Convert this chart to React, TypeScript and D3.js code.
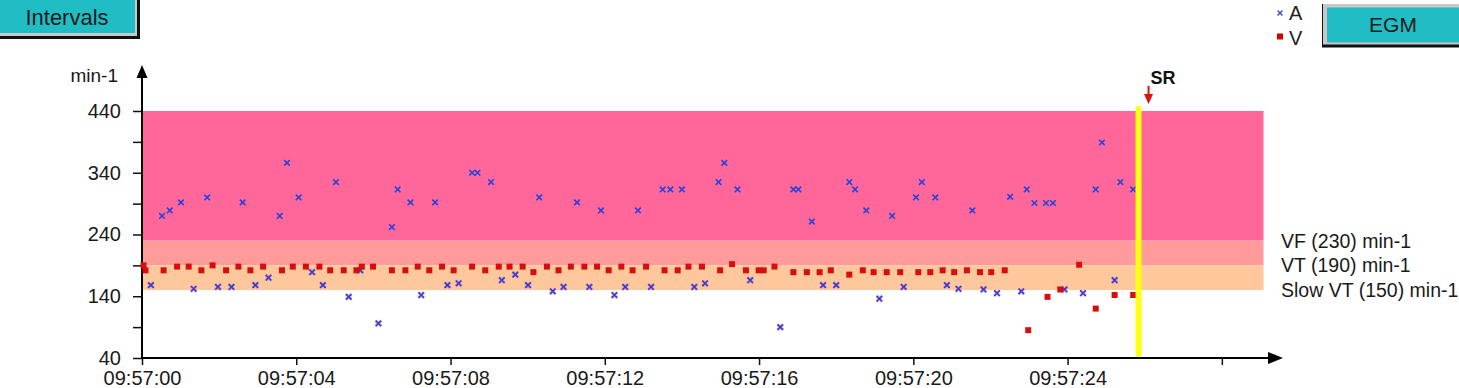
import React, { useEffect, useRef } from 'react';
import * as d3 from 'd3';

// episode: seconds after 09:57:00 and rate in min-1
const aTimes = [
  0.23, 0.52, 0.72, 1.01, 1.34, 1.69, 1.97, 2.32, 2.61, 2.94, 3.28, 3.57, 3.76, 4.06, 4.41,
  4.69, 5.03, 5.36, 5.66, 6.13, 6.48, 6.63, 6.96, 7.24, 7.6, 7.92, 8.21, 8.56, 8.7, 9.05,
  9.33, 9.68, 10.01, 10.3, 10.65, 10.93, 11.28, 11.6, 11.9, 12.25, 12.53, 12.86, 13.2, 13.5,
  13.7, 14.0, 14.32, 14.6, 14.95, 15.1, 15.44, 15.77, 16.55, 16.89, 17.02, 17.37, 17.66, 18.0,
  18.34, 18.49, 18.78, 19.12, 19.45, 19.75, 20.07, 20.22, 20.57, 20.87, 21.17, 21.53, 21.82,
  22.17, 22.51, 22.8, 22.94, 23.14, 23.44, 23.62, 23.92, 24.4, 24.73, 24.89, 25.22, 25.37, 25.7
];
const aRates = [
  158, 270, 279, 292, 152, 300, 155, 155, 292, 158, 170, 270, 356, 300, 179,
  158, 325, 139, 182, 96, 252, 313, 292, 142, 292, 158, 161, 340, 340, 325,
  166, 175, 158, 300, 148, 155, 292, 155, 279, 142, 155, 279, 155, 313,
  313, 313, 155, 161, 325, 356, 313, 166, 90, 313, 313, 261, 158, 158,
  325, 313, 279, 136, 270, 155, 300, 325, 300, 158, 152, 279, 151,
  145, 301, 148, 313, 291, 291, 291, 151, 145, 313, 389, 166, 325, 313
];

const vTimes = [
  0.04, 0.09, 0.56, 0.91, 1.21, 1.54, 1.83, 2.18, 2.5, 2.81, 3.14, 3.63, 3.91, 4.25, 4.6,
  4.88, 5.23, 5.56, 5.7, 5.99, 6.48, 6.83, 7.15, 7.45, 7.78, 8.08, 8.56, 8.9, 9.25, 9.53,
  9.87, 10.15, 10.5, 10.8, 11.12, 11.47, 11.8, 12.1, 12.43, 12.72, 13.07, 13.55, 13.89, 14.17,
  14.52, 14.99, 15.3, 15.66, 15.99, 16.12, 16.4, 16.89, 17.24, 17.57, 17.86, 18.34, 18.69,
  18.97, 19.31, 19.66, 20.13, 20.44, 20.76, 21.06, 21.39, 21.73, 22.02, 22.37, 22.98, 23.48,
  23.81, 24.3, 24.73, 25.22, 25.7
];
const vRates = [
  190, 182, 182, 188, 188, 182, 190, 182, 188, 182, 188, 182, 188, 188, 188,
  182, 182, 182, 188, 188, 182, 182, 188, 182, 188, 182, 188, 182, 188, 188,
  188, 179, 188, 182, 188, 188, 188, 182, 188, 182, 188, 182, 182, 188,
  188, 182, 192, 182, 182, 182, 188, 179, 179, 179, 182, 175, 182,
  179, 179, 179, 179, 179, 182, 179, 182, 179, 179, 182, 85, 139,
  151, 191, 120, 142, 142
];

const zoneNames = ['VF', 'VT', 'Slow VT'];
const zoneLimits = [230, 190, 150];
const rateTicks = [40, 90, 140, 190, 240, 290, 340, 390, 440];
const rateLabels = ['40', '', '140', '', '240', '', '340', '', '440'];
const timeTicks = [0, 4, 8, 12, 16, 20, 24, 28];
const timeLabels = ['09:57:00', '09:57:04', '09:57:08', '09:57:12', '09:57:16', '09:57:20', '09:57:24', ''];
const srTime = 25.84;
const plotEnd = 29.08;
const rateMax = 440;
const rateMin = 40;

const zoneColors = ['#ff6699', '#ff9b9b', '#ffc79c'];
const font = '"Liberation Sans", Arial, sans-serif';
const teal = '#20bec4';

export default function App() {
  const ref = useRef<SVGSVGElement>(null);

  useEffect(() => {
    const svg = d3.select(ref.current);
    svg.selectAll('*').remove();

    const x = d3.scaleLinear().domain([0, plotEnd]).range([142, 1263.5]);
    const y = d3.scaleLinear().domain([rateMin, rateMax]).range([358, 111]);

    // buttons
    const b1 = svg.append('g');
    b1.append('rect').attr('x', -2).attr('y', -2).attr('width', 142).attr('height', 41).attr('fill', '#101010');
    b1.append('rect').attr('x', -2).attr('y', -2).attr('width', 139).attr('height', 38).attr('fill', '#c8c8c8');
    b1.append('rect').attr('x', 0).attr('y', 0).attr('width', 135).attr('height', 33).attr('fill', teal);
    b1.append('text').attr('x', 67).attr('y', 25).attr('text-anchor', 'middle')
      .attr('font-family', font).attr('font-size', 22).attr('fill', '#1a1a1a').text('Intervals');

    const b2 = svg.append('g');
    b2.append('rect').attr('x', 1322).attr('y', 4).attr('width', 140).attr('height', 43.5).attr('fill', '#101010');
    b2.append('rect').attr('x', 1323).attr('y', 4).attr('width', 140).attr('height', 40.5).attr('fill', '#c8c8c8');
    b2.append('rect').attr('x', 1327).attr('y', 7.5).attr('width', 140).attr('height', 35).attr('fill', teal);
    b2.append('text').attr('x', 1393).attr('y', 32).attr('text-anchor', 'middle')
      .attr('font-family', font).attr('font-size', 21).attr('fill', '#1a1a1a').text('EGM');

    // legend
    const lg = svg.append('g').attr('font-family', font).attr('font-size', 20).attr('fill', '#222');
    lg.append('path').attr('d', 'M1277.5,10.5L1282.5,15.5M1277.5,15.5L1282.5,10.5')
      .attr('stroke', '#4a4ac8').attr('stroke-width', 1.5);
    lg.append('text').attr('x', 1289).attr('y', 19.5).text('A');
    lg.append('rect').attr('x', 1277).attr('y', 33.5).attr('width', 6).attr('height', 6).attr('fill', '#d40000');
    lg.append('text').attr('x', 1289).attr('y', 45).text('V');

    // zones
    const upper = [rateMax].concat(zoneLimits.slice(0, -1));
    svg.append('g').selectAll('rect').data(zoneLimits).join('rect')
      .attr('x', x(0))
      .attr('width', x(plotEnd) - x(0))
      .attr('y', (d, i) => y(upper[i]))
      .attr('height', (d, i) => y(d) - y(upper[i]))
      .attr('fill', (d, i) => zoneColors[i]);

    svg.append('g').selectAll('text').data(zoneLimits).join('text')
      .attr('x', 1281)
      .attr('y', d => y(d))
      .attr('dy', '0.36em')
      .attr('font-family', font).attr('font-size', 19.5).attr('fill', '#1a1a1a')
      .text((d, i) => zoneNames[i] + ' (' + d + ') min-1');

    // y axis
    const yAxis = d3.axisLeft(y).tickValues(rateTicks).tickSize(9).tickPadding(12)
      .tickFormat((d, i) => rateLabels[i]);
    const gy = svg.append('g').attr('transform', 'translate(142,0)').call(yAxis);
    gy.select('.domain').remove();
    gy.selectAll('line').attr('stroke', '#111').attr('stroke-width', 1.5);
    gy.selectAll('text').attr('font-family', font).attr('font-size', 20).attr('fill', '#1a1a1a');

    // x axis
    const xAxis = d3.axisBottom(x).tickValues(timeTicks).tickSize(7).tickPadding(6)
      .tickFormat((d, i) => timeLabels[i]);
    const gx = svg.append('g').attr('transform', 'translate(0,358)').call(xAxis);
    gx.select('.domain').remove();
    gx.selectAll('line').attr('stroke', '#111').attr('stroke-width', 1.5);
    gx.selectAll('text').attr('font-family', font).attr('font-size', 20).attr('fill', '#1a1a1a');

    svg.append('line').attr('x1', 142).attr('x2', 142).attr('y1', 359).attr('y2', 74)
      .attr('stroke', '#000').attr('stroke-width', 2);
    svg.append('path').attr('d', 'M142,65L147.5,78L136.5,78Z').attr('fill', '#000');
    svg.append('line').attr('x1', 141).attr('x2', 1272).attr('y1', 358).attr('y2', 358)
      .attr('stroke', '#000').attr('stroke-width', 2);
    svg.append('path').attr('d', 'M1283,358L1268,352L1268,364Z').attr('fill', '#000');
    svg.append('text').attr('x', 118).attr('y', 82).attr('text-anchor', 'end')
      .attr('font-family', font).attr('font-size', 19).attr('fill', '#1a1a1a').text('min-1');

    // points
    const aData = aTimes.map((t, i) => ({ t, r: aRates[i] }));
    const vData = vTimes.map((t, i) => ({ t, r: vRates[i] }));

    svg.append('g').selectAll('path').data(aData).join('path')
      .attr('transform', d => 'translate(' + x(d.t) + ',' + y(d.r) + ')')
      .attr('d', 'M-2.8,-2.8L2.8,2.8M-2.8,2.8L2.8,-2.8')
      .attr('stroke', '#b08ae8').attr('stroke-width', 3.2).attr('stroke-opacity', 0.5);
    svg.append('g').selectAll('path').data(aData).join('path')
      .attr('transform', d => 'translate(' + x(d.t) + ',' + y(d.r) + ')')
      .attr('d', 'M-2.8,-2.8L2.8,2.8M-2.8,2.8L2.8,-2.8')
      .attr('stroke', '#4438c0').attr('stroke-width', 1.6);

    svg.append('g').selectAll('rect').data(vData).join('rect')
      .attr('x', d => x(d.t) - 3)
      .attr('y', d => y(d.r) - 3)
      .attr('width', 6).attr('height', 6)
      .attr('fill', '#d80e0e');

    // SR marker
    svg.append('line').attr('x1', x(srTime)).attr('x2', x(srTime))
      .attr('y1', y(rateMax) - 2).attr('y2', 354)
      .attr('stroke', '#ffff10').attr('stroke-width', 6).attr('stroke-linecap', 'round');
    const sx = x(srTime) + 10;
    svg.append('line').attr('x1', sx).attr('x2', sx).attr('y1', 86).attr('y2', 96)
      .attr('stroke', '#e01010').attr('stroke-width', 2);
    svg.append('path').attr('d', 'M' + sx + ',104L' + (sx - 4.5) + ',94L' + (sx + 4.5) + ',94Z').attr('fill', '#e01010');
    svg.append('text').attr('x', sx + 2).attr('y', 84)
      .attr('font-family', font).attr('font-size', 18).attr('font-weight', 'bold').attr('fill', '#111').text('SR');
  }, []);

  return (
    <svg
      ref={ref}
      width={1459}
      height={388}
      style={{ position: 'absolute', left: 0, top: 0, background: '#fff' }}
    />
  );
}
